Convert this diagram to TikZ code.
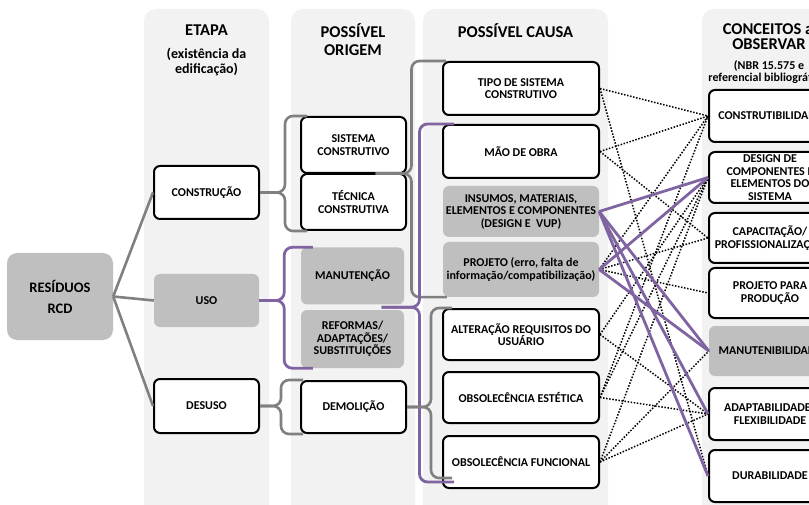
\documentclass[tikz,border=0pt]{standalone}
\usepackage{fontspec}
\setmainfont{Carlito}
\usetikzlibrary{calc}
\definecolor{colbg}{HTML}{F2F2F2}
\definecolor{boxgray}{HTML}{BFBFBF}
\definecolor{linegray}{HTML}{808080}
\definecolor{accentpurple}{HTML}{8064A2}
\begin{document}
\begin{tikzpicture}[x=1pt,y=-1pt,
  column/.style={fill=colbg, rounded corners=12pt},
  boxtext/.style={align=center, inner sep=0pt, font=\fontsize{12}{12.5}\selectfont\bfseries},
  wbox/.style={boxtext, draw=black, line width=2pt, fill=white, rounded corners=6pt},
  gbox/.style={boxtext, fill=boxgray, rounded corners=6pt},
  head/.style={align=center, inner sep=0pt, font=\fontsize{16.5}{18.5}\selectfont\bfseries},
  subhead/.style={align=center, inner sep=0pt, font=\fontsize{12}{12}\selectfont\bfseries},
  graylink/.style={draw=linegray, line width=2.6pt},
  purplelink/.style={draw=accentpurple, line width=2.8pt},
  dotlink/.style={draw=black, line width=1.5pt, dash pattern=on 1.5pt off 1.6pt},
  bracecurve/.style={rounded corners=8pt},
]
\useasboundingbox (0,0) rectangle (809,505);
\clip (0,0) rectangle (809,505);
\fill[white] (0,0) rectangle (809,505);

% column backgrounds
\fill[column] (144,9) rectangle (269,525);
\fill[column] (291,9) rectangle (415,525);
\fill[column] (423,9) rectangle (608,525);
\fill[column] (702,9) rectangle (860,525);

% column headings
\node[head] (h1) at (206.5,30.5) {ETAPA};
\node[subhead, font=\fontsize{14}{14.5}\selectfont\bfseries] (h1s) at (206.5,62) {(existência da\\edificação)};
\node[head] (h2) at (353,39.5) {POSSÍVEL\\ORIGEM};
\node[head] (h3) at (515.5,30.5) {POSSÍVEL CAUSA};
\node[head] (h4a) at (768,29.5) {CONCEITOS a};
\node[head] (h4b) at (769,44.5) {OBSERVAR};
\node[subhead] (h4s) at (769,72) {(NBR 15.575 e\\referencial bibliográfico)};

% root
\node[gbox, minimum width=106pt, minimum height=87pt, rounded corners=10pt,
      font=\fontsize{14.5}{21}\selectfont\bfseries] (res) at (60,296.5) {RESÍDUOS\\RCD};

% stage column
\node[wbox, minimum width=105pt, minimum height=53pt] (constr) at (206.5,192.5) {CONSTRUÇÃO};
\node[gbox, minimum width=105pt, minimum height=53pt] (uso) at (206.5,300.5) {USO};
\node[wbox, minimum width=105pt, minimum height=54pt] (desuso) at (206.5,406) {DESUSO};

% origin column
\node[wbox, minimum width=105pt, minimum height=56pt] (sist) at (353.5,145) {SISTEMA\\CONSTRUTIVO};
\node[wbox, minimum width=105pt, minimum height=56pt] (tec) at (353.5,202) {TÉCNICA\\CONSTRUTIVA};
\node[gbox, minimum width=103pt, minimum height=57pt] (manut) at (352.5,276) {MANUTENÇÃO};
\node[gbox, minimum width=103pt, minimum height=58pt] (ref) at (352.5,339) {REFORMAS/\\ADAPTAÇÕES/\\SUBSTITUIÇÕES};
\node[wbox, minimum width=105pt, minimum height=52pt] (demol) at (353.5,407) {DEMOLIÇÃO};

% cause column
\node[wbox, minimum width=156pt, minimum height=53pt] (tipo) at (521,88.5) {TIPO DE SISTEMA\\CONSTRUTIVO};
\node[wbox, minimum width=156pt, minimum height=53pt] (mao) at (521,151.5) {MÃO DE OBRA};
\node[gbox, minimum width=156pt, minimum height=51pt] (insumos) at (521,211.5) {INSUMOS, MATERIAIS,\\ELEMENTOS E COMPONENTES\\(DESIGN E\ \ VUP)};
\node[gbox, minimum width=156pt, minimum height=55pt] (projeto) at (521,269.5) {PROJETO (erro, falta de\\informação/compatibilização)};
\node[wbox, minimum width=156pt, minimum height=51pt] (alter) at (521,334.5) {ALTERAÇÃO REQUISITOS DO\\USUÁRIO};
\node[wbox, minimum width=156pt, minimum height=51pt] (estet) at (521,397.5) {OBSOLECÊNCIA ESTÉTICA};
\node[wbox, minimum width=156pt, minimum height=52pt] (func) at (521,462) {OBSOLECÊNCIA FUNCIONAL};

% concept column
\node[wbox, minimum width=122pt, minimum height=52pt] (cons) at (770,116) {CONSTRUTIBILIDADE};
\node[wbox, minimum width=122pt, minimum height=51pt] (design) at (770,177.5) {DESIGN DE\\COMPONENTES E\\ELEMENTOS DO\\SISTEMA};
\node[wbox, minimum width=122pt, minimum height=50pt] (capac) at (770,238) {CAPACITAÇÃO/\\PROFISSIONALIZAÇÃO};
\node[wbox, minimum width=122pt, minimum height=50pt] (ppp) at (770,293) {PROJETO PARA\\PRODUÇÃO};
\node[gbox, minimum width=122pt, minimum height=50pt] (manutb) at (770,351) {MANUTENIBILIDADE};
\node[wbox, minimum width=122pt, minimum height=52pt] (adapt) at (770,414) {ADAPTABILIDADE/\\FLEXIBILIDADE};
\node[wbox, minimum width=122pt, minimum height=52pt] (dur) at (770,476) {DURABILIDADE};

% root to stages
\draw[graylink] (res.east) -- (constr.west);
\draw[graylink] (res.east) -- (uso.west);
\draw[graylink] (res.east) -- (desuso.west);

% stem points between stacked boxes
\coordinate (jst) at ($(sist.south)!0.5!(tec.north)+(22,0)$);
\coordinate (jmr) at ($(manut.south)!0.5!(ref.north)+(29,0)$);

% braces: stage -> origin
\draw[graylink, bracecurve] ($(sist.north west)+(7,0)$) -| ($(constr.east)+(25,0)$) -- (constr.east);
\draw[graylink, bracecurve] ($(tec.south west)+(7,0)$) -| ($(constr.east)+(25,0)$) -- (constr.east);
\draw[purplelink, bracecurve] ($(manut.north west)+(12,0)$) -| ($(uso.east)+(25,0)$) -- (uso.east);
\draw[purplelink, bracecurve] ($(ref.south west)+(12,0)$) -| ($(uso.east)+(25,0)$) -- (uso.east);
\draw[graylink, bracecurve] ($(demol.north west)+(3,0)$) -| ($(desuso.east)+(21,0)$) -- (desuso.east);
\draw[graylink, bracecurve] ($(demol.south west)+(3,0)$) -| ($(desuso.east)+(21,0)$) -- (desuso.east);

% braces: origin -> cause
\draw[graylink, bracecurve] ($(tipo.north west)+(4,0)$) -| ($(jst)+(36,0)$) -- (jst);
\draw[graylink, bracecurve] ($(projeto.south west)+(4,0)$) -| ($(jst)+(36,0)$) -- (jst);
\draw[purplelink, bracecurve] ($(mao.north west)+(12,0)$) -| ($(jmr)+(38,0)$) -- (jmr);
\draw[purplelink, bracecurve] ($(func.south west)+(12,-7)$) -| ($(jmr)+(38,0)$) -- (jmr);
\draw[graylink, bracecurve] ($(alter.north west)+(10,0)$) -| ($(demol.east)+(24,0)$) -- (demol.east);
\draw[graylink, bracecurve] ($(func.south west)+(10,-11)$) -| ($(demol.east)+(24,0)$) -- (demol.east);

% cause -> concept, dotted
\draw[dotlink] (tipo.east) -- (cons.west);
\draw[dotlink] (tipo.east) -- (dur.west);
\draw[dotlink] (mao.east) -- (cons.west);
\draw[dotlink] (mao.east) -- (capac.west);
\draw[dotlink] (projeto.east) -- (cons.west);
\draw[dotlink] (projeto.east) -- (capac.west);
\draw[dotlink] (projeto.east) -- (ppp.west);
\draw[dotlink] (alter.east) -- (design.west);
\draw[dotlink] (alter.east) -- (adapt.west);
\draw[dotlink] (estet.east) -- (cons.west);
\draw[dotlink] (estet.east) -- (design.west);
\draw[dotlink] (estet.east) -- (adapt.west);
\draw[dotlink] (func.east) -- (design.west);
\draw[dotlink] (func.east) -- (manutb.west);
\draw[dotlink] (func.east) -- (adapt.west);

% cause -> concept, highlighted
\draw[purplelink] (insumos.east) -- (design.west);
\draw[purplelink] (insumos.east) -- (manutb.west);
\draw[purplelink] (insumos.east) -- (adapt.west);
\draw[purplelink] (insumos.east) -- (dur.west);
\draw[purplelink] (projeto.east) -- (design.west);
\draw[purplelink] (projeto.east) -- (manutb.west);
\end{tikzpicture}
\end{document}
